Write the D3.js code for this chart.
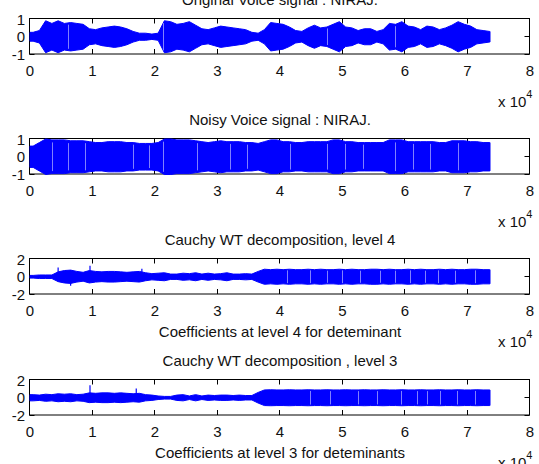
<!DOCTYPE html>
<html>
<head>
<meta charset="utf-8">
<script src="https://cdn.jsdelivr.net/npm/d3@7/dist/d3.min.js"></script>
<style>
  body { margin: 0; background: #fff; }
  text { font-family: "Liberation Sans", Arial, Helvetica, sans-serif; fill: #111; }
</style>
</head>
<body>
<svg id="chart" width="539" height="464"></svg>
<script>
// Voice signal and its Cauchy wavelet coefficients, summarised as the
// amplitude envelope of every block of 1000 samples (73 600 samples in all).
const sampleCount = 73600;
const binSize = 1000;
const xTickValues = [0, 1, 2, 3, 4, 5, 6, 7, 8];   // x axis in units of 10^4 samples

const originalAmp = [
  0.25, 0.35, 0.9, 0.75, 0.9, 0.75, 0.8, 0.75, 0.7, 0.45,
  0.4, 0.5, 0.55, 0.6, 0.55, 0.45, 0.3, 0.2, 0.2, 0.15,
  0.2, 0.9, 0.85, 0.7, 0.75, 0.85, 0.65, 0.45, 0.4, 0.5,
  0.6, 0.55, 0.5, 0.45, 0.4, 0.25, 0.2, 0.4, 0.8, 0.75,
  0.7, 0.55, 0.35, 0.3, 0.5, 0.65, 0.5, 0.55, 0.7, 0.85,
  0.55, 0.5, 0.35, 0.45, 0.45, 0.3, 0.4, 0.75, 0.7, 0.85,
  0.6, 0.55, 0.4, 0.6, 0.55, 0.4, 0.5, 0.65, 0.85, 0.7,
  0.6, 0.4, 0.35, 0.3
];

const noisyAmp = [
  0.6, 0.8, 1.0, 0.95, 0.95, 0.95, 0.9, 0.9, 0.9, 0.85,
  0.8, 0.8, 0.85, 0.85, 0.85, 0.8, 0.8, 0.75, 0.75, 0.75,
  0.8, 1.0, 1.0, 0.95, 0.95, 0.95, 0.9, 0.85, 0.8, 0.85,
  0.9, 0.85, 0.85, 0.85, 0.8, 0.8, 0.75, 0.85, 0.95, 0.95,
  0.85, 0.85, 0.8, 0.8, 0.85, 0.85, 0.85, 0.85, 0.95, 0.95,
  0.85, 0.85, 0.8, 0.8, 0.8, 0.8, 0.8, 0.95, 0.95, 0.95,
  0.85, 0.85, 0.85, 0.85, 0.85, 0.8, 0.8, 0.9, 0.9, 0.9,
  0.85, 0.85, 0.8, 0.8
];

const level4Amp = [
  0.15, 0.2, 0.2, 0.2, 0.55, 0.7, 0.75, 0.6, 0.5, 0.7,
  0.6, 0.55, 0.6, 0.6, 0.55, 0.5, 0.55, 0.6, 0.45, 0.35,
  0.4, 0.45, 0.3, 0.3, 0.4, 0.35, 0.45, 0.3, 0.4, 0.3,
  0.35, 0.45, 0.3, 0.3, 0.35, 0.3, 0.6, 0.85, 0.8, 0.85,
  0.8, 0.85, 0.8, 0.8, 0.85, 0.8, 0.85, 0.8, 0.8, 0.85,
  0.8, 0.85, 0.8, 0.8, 0.85, 0.85, 0.8, 0.85, 0.8, 0.8,
  0.85, 0.8, 0.85, 0.8, 0.8, 0.85, 0.8, 0.85, 0.8, 0.8,
  0.85, 0.85, 0.8, 0.8
];

const level3Amp = [
  0.35, 0.3, 0.4, 0.35, 0.45, 0.4, 0.45, 0.35, 0.4, 0.55,
  0.5, 0.55, 0.55, 0.5, 0.55, 0.5, 0.45, 0.5, 0.35, 0.3,
  0.2, 0.15, 0.15, 0.3, 0.35, 0.2, 0.35, 0.2, 0.3, 0.25,
  0.3, 0.3, 0.25, 0.3, 0.25, 0.25, 0.6, 0.88, 0.9, 0.88,
  0.88, 0.9, 0.88, 0.88, 0.9, 0.88, 0.88, 0.9, 0.88, 0.88,
  0.9, 0.88, 0.88, 0.9, 0.88, 0.88, 0.9, 0.88, 0.88, 0.9,
  0.88, 0.88, 0.9, 0.88, 0.88, 0.9, 0.88, 0.88, 0.9, 0.88,
  0.88, 0.9, 0.88, 0.88
];

// Isolated peaks that stand out of the envelope: [sample, value]
const level4Peaks = [[4500, 1.05], [6500, -1.0], [9600, 1.25], [17900, 0.9]];
const level3Peaks = [[9600, 1.4], [17000, 1.05]];

// Near-zero crossings that show as thin pale lines through the band
const originalGaps = [6100, 21200, 47500, 58400];
const noisyGaps = [3500, 6100, 8800, 16500, 19000, 21300, 26700, 32000, 34700,
                   41600, 47500, 50400, 53300, 58400, 61300, 64000, 68500];
const level4Gaps = [41100, 44800, 47500, 49900, 52800, 56000, 58400, 60800,
                    63200, 65300, 68000, 71200];
const level3Gaps = [44800, 48000, 52500, 55500, 59300, 61900, 63500, 65600,
                    68300, 71200];

const panels = [
  { title: "Original Voice signal : NIRAJ.", xlabel: "", yDomain: [-1, 1], yTicks: [-1, 0, 1],
    amp: originalAmp, peaks: [], gaps: originalGaps, top: 19 },
  { title: "Noisy Voice signal : NIRAJ.", xlabel: "", yDomain: [-1, 1], yTicks: [-1, 0, 1],
    amp: noisyAmp, peaks: [], gaps: noisyGaps, top: 139 },
  { title: "Cauchy WT decomposition, level 4", xlabel: "Coefficients at level 4 for deteminant",
    yDomain: [-2, 2], yTicks: [-2, 0, 2], amp: level4Amp, peaks: level4Peaks, gaps: level4Gaps, top: 259 },
  { title: "Cauchy WT decomposition , level 3", xlabel: "Coefficients at level 3 for deteminants",
    yDomain: [-2, 2], yTicks: [-2, 0, 2], amp: level3Amp, peaks: level3Peaks, gaps: level3Gaps, top: 380 }
];

const svg = d3.select("#chart");
const left = 30, right = 530, panelH = 35.5;
const blue = "#0000ff";
const fontSize = 15;

const x = d3.scaleLinear().domain([0, 80000]).range([left, right]);

panels.forEach(p => {
  const g = svg.append("g");
  const y = d3.scaleLinear().domain(p.yDomain).range([p.top + panelH, p.top]);

  // envelope points at block centres, pinned at the first and last sample
  const pts = p.amp.map((a, i) => ({ s: Math.min((i + 0.5) * binSize, sampleCount), a }));
  pts.unshift({ s: 0, a: p.amp[0] });
  pts.push({ s: sampleCount, a: p.amp[p.amp.length - 1] });

  // axis box
  g.append("rect")
    .attr("x", left - 0.5).attr("y", p.top - 0.5)
    .attr("width", right - left).attr("height", panelH)
    .attr("fill", "none").attr("stroke", "#000").attr("stroke-width", 1);

  // inward ticks on the x axis (bottom and top)
  const tickLen = 5;
  xTickValues.forEach(t => {
    const xp = Math.round(x(t * 10000)) - 0.5;
    g.append("line").attr("x1", xp).attr("x2", xp)
      .attr("y1", p.top + panelH - 0.5).attr("y2", p.top + panelH - 0.5 - tickLen)
      .attr("stroke", "#000");
    g.append("line").attr("x1", xp).attr("x2", xp)
      .attr("y1", p.top - 0.5).attr("y2", p.top - 0.5 + tickLen)
      .attr("stroke", "#000");
    g.append("text")
      .attr("x", x(t * 10000)).attr("y", p.top + panelH + 21)
      .attr("text-anchor", "middle").attr("font-size", fontSize)
      .text(t);
  });

  // y ticks (left and right, inward) and labels
  p.yTicks.forEach(t => {
    const yp = Math.round(y(t)) - 0.5;
    g.append("line").attr("x1", left - 0.5).attr("x2", left - 0.5 + tickLen)
      .attr("y1", yp).attr("y2", yp).attr("stroke", "#000");
    g.append("line").attr("x1", right - 0.5).attr("x2", right - 0.5 - tickLen)
      .attr("y1", yp).attr("y2", yp).attr("stroke", "#000");
    g.append("text")
      .attr("x", 25).attr("y", y(t))
      .attr("text-anchor", "end").attr("dominant-baseline", "central")
      .attr("font-size", fontSize)
      .text(t);
  });

  // signal band
  const area = d3.area()
    .curve(d3.curveLinear)
    .x(d => x(d.s))
    .y0(d => y(-d.a))
    .y1(d => y(d.a));
  g.append("path").datum(pts)
    .attr("d", area)
    .attr("fill", blue)
    .attr("stroke", blue).attr("stroke-width", 1);

  // isolated peaks
  g.selectAll(".peak").data(p.peaks).enter().append("line")
    .attr("x1", d => x(d[0])).attr("x2", d => x(d[0]))
    .attr("y1", y(0)).attr("y2", d => y(d[1]))
    .attr("stroke", blue).attr("stroke-width", 1.2);

  // pale zero-crossing lines
  g.selectAll(".gap").data(p.gaps).enter().append("line")
    .attr("x1", d => Math.round(x(d)) + 0.5).attr("x2", d => Math.round(x(d)) + 0.5)
    .attr("y1", d => y(p.amp[Math.floor(d / binSize)] * 0.85))
    .attr("y2", d => y(-p.amp[Math.floor(d / binSize)] * 0.85))
    .attr("stroke", "#fff").attr("stroke-opacity", 0.5).attr("stroke-width", 1);

  // title
  g.append("text")
    .attr("x", (left + right) / 2).attr("y", p.top - 14)
    .attr("text-anchor", "middle").attr("font-size", fontSize)
    .text(p.title);

  // x label
  if (p.xlabel) {
    g.append("text")
      .attr("x", (left + right) / 2).attr("y", p.top + panelH + 42)
      .attr("text-anchor", "middle").attr("font-size", fontSize)
      .text(p.xlabel);
  }

  // exponent of the x axis
  const ex = g.append("text")
    .attr("x", 498).attr("y", p.top + panelH + 52)
    .attr("font-size", fontSize);
  ex.append("tspan").text("x 10");
  ex.append("tspan").attr("dy", -9).attr("font-size", 11).text("4");
});
</script>
</body>
</html>
